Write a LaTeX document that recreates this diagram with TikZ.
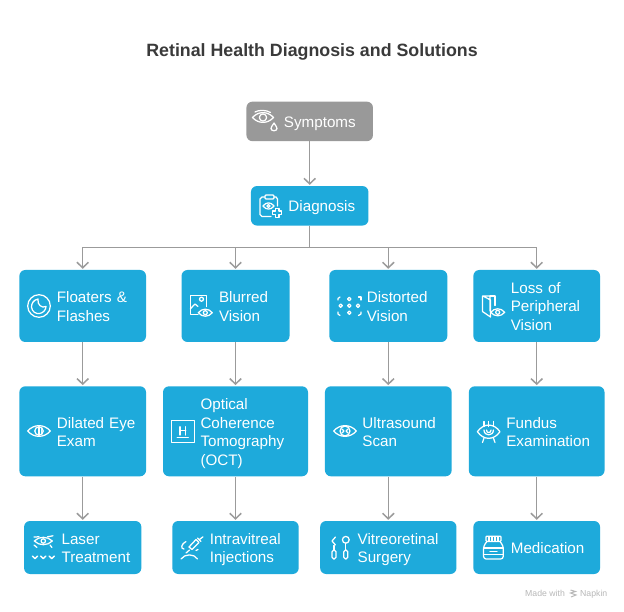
\documentclass[tikz,border=0pt]{standalone}
\usepackage{fontspec}
\setmainfont{Liberation Sans}
\usetikzlibrary{arrows.meta}
\definecolor{cardblue}{HTML}{1EAADB}
\definecolor{cardgrey}{HTML}{999999}
\definecolor{linkgrey}{HTML}{9B9B9B}
\definecolor{titleink}{HTML}{3A3A3A}
\definecolor{footink}{HTML}{B8B8B8}
\tikzset{
  card/.style={fill=cardblue, text=white, rounded corners=6pt, inner xsep=0pt, inner ysep=0pt,
    text width=#1, align=left, font=\fontsize{15.2}{18.5}\selectfont,
    execute at begin node={\leftskip=37.5pt\rule{0pt}{15.5pt}},
    execute at end node={\rule[-3.5pt]{0pt}{3.5pt}}},
  rowtop/.style={minimum height=39.5pt},
  rowa/.style={minimum height=72pt},
  rowb/.style={minimum height=90pt},
  rowc/.style={minimum height=53pt},
  link/.style={draw=linkgrey, line width=1.5pt, -{Straight Barb[length=5.5pt,width=11.5pt]}, shorten >=1pt},
  trunk/.style={draw=linkgrey, line width=1.5pt},
  iconline/.style={draw=white, line width=1.25pt, line cap=round, line join=round},
  footnote/.style={anchor=base west, inner sep=0, text=footink, font=\fontsize{8.7}{10}\selectfont},
}
% eye outline: centre x, centre y, half width, half height
\newcommand\eyeglyph[4]{
  \draw[iconline] (#1-#3,#2) .. controls (#1-#3*0.45,#2-#4*1.3) and (#1+#3*0.45,#2-#4*1.3) .. (#1+#3,#2)
    .. controls (#1+#3*0.45,#2+#4*1.3) and (#1-#3*0.45,#2+#4*1.3) .. (#1-#3,#2) -- cycle;
}
\begin{document}
\begin{tikzpicture}[x=1pt, y=-1pt]
    \useasboundingbox (0,0) rectangle (624,612);
    \fill[white] (0,0) rectangle (624,612);
    %% title
    \draw (312,51.5) node[text=titleink, font=\fontsize{17.8}{22}\selectfont\bfseries](title){Retinal Health Diagnosis and Solutions} ;
    %% top
    \draw (309.7,121.4) node[card=126.5pt, rowtop, fill=cardgrey](symptoms){Symptoms} ;
    \draw (309.7,205.8) node[card=117.5pt, rowtop](diagnosis){Diagnosis} ;
    %% symptoms
    \draw (82.7,306) node[card=126.7pt, rowa](floaters){Floaters \&\\Flashes} ;
    \draw (235.5,306) node[card=108pt, rowa](blurred){Blurred\\Vision} ;
    \draw (388.3,306) node[card=118pt, rowa](distorted){Distorted\\Vision} ;
    \draw (536.7,306) node[card=126.7pt, rowa](loss){Loss of\\Peripheral\\Vision} ;
    %% exams
    \draw (82.7,431.3) node[card=126.7pt, rowb](dilated){Dilated Eye\\Exam} ;
    \draw (235.5,431.3) node[card=145pt, rowb](oct){Optical\\Coherence\\Tomography\\(OCT)} ;
    \draw (388.3,431.3) node[card=126.7pt, rowb](ultrasound){Ultrasound\\Scan} ;
    \draw (536.7,431.3) node[card=135.7pt, rowb](fundus){Fundus\\Examination} ;
    %% treatments
    \draw (82.7,547.5) node[card=117.3pt, rowc](laser){Laser\\Treatment} ;
    \draw (235.5,547.5) node[card=126.4pt, rowc](injections){Intravitreal\\Injections} ;
    \draw (388.3,547.5) node[card=136.3pt, rowc](surgery){Vitreoretinal\\Surgery} ;
    \draw (536.7,547.5) node[card=126.7pt, rowc](medication){Medication} ;
    %% connectors
    \coordinate (bus) at (309.7,247.3) ;
    \draw[link] (symptoms) -- (diagnosis) ;
    \draw[trunk] (diagnosis) -- (bus) ;
    \draw[link] (bus) -| (floaters.north) ;
    \draw[link] (bus) -| (blurred.north) ;
    \draw[link] (bus) -| (distorted.north) ;
    \draw[link] (bus) -| (loss.north) ;
    \draw[link] (floaters) -- (dilated) ;
    \draw[link] (blurred) -- (oct) ;
    \draw[link] (distorted) -- (ultrasound) ;
    \draw[link] (loss) -- (fundus) ;
    \draw[link] (dilated) -- (laser) ;
    \draw[link] (oct) -- (injections) ;
    \draw[link] (ultrasound) -- (surgery) ;
    \draw[link] (fundus) -- (medication) ;
    %% icons
    %% -- symptoms
    \eyeglyph{263}{117.5}{10.5}{5}
    \draw[iconline] (263,117.5) circle (3.6) ;
    \draw[iconline] (255,112) .. controls (258.5,109.8) and (266.5,109.8) .. (270.5,112.5) ;
    \draw[iconline] (274,123) .. controls (272,126) and (271,127.5) .. (271,128.5)
      .. controls (271,131.5) and (277,131.5) .. (277,128.5) .. controls (277,127.5) and (276,126) .. (274,123) -- cycle ;
    %% -- diagnosis
    \draw[iconline] (264.5,197) -- (262,197) -- (260,199) -- (260,214.5) -- (262,216.5) -- (271,216.5) ;
    \draw[iconline] (274,197) -- (276,197) -- (277.5,199) -- (277.5,206) ;
    \draw[iconline, rounded corners=1pt] (265,195) rectangle (274,199) ;
    \eyeglyph{268.5}{206}{5.5}{3.2}
    \draw[iconline] (268.5,206) circle (1.6) ;
    \draw[iconline] (275.6,208.2) -- (279,208.2) -- (279,211) -- (281.8,211) -- (281.8,214.4) -- (279,214.4) -- (279,217.2) -- (275.6,217.2) -- (275.6,214.4) -- (272.8,214.4) -- (272.8,211) -- (275.6,211) -- cycle ;
    %% -- floaters
    \draw[iconline] (39,306) circle (11.3) ;
    \draw[iconline] (38,299) .. controls (33,300) and (31.5,304) .. (31.5,307) .. controls (32,312) and (36,314) .. (39.5,313.5)
      .. controls (43,313) and (46,310) .. (46,306.5) .. controls (42,308.5) and (37,305) .. (38,299) -- cycle ;
    %% -- blurred
    \draw[iconline] (198,314.2) -- (190.2,314.2) -- (190.2,295.2) -- (206.6,295.2) -- (206.6,306.5) ;
    \draw[iconline] (190.2,309) -- (195,304) -- (198,306.5) ;
    \draw[iconline] (201.5,299.2) circle (2) ;
    \eyeglyph{205.3}{312.7}{7}{3.6}
    \draw[iconline] (205.3,312.7) circle (2) ;
    %% -- distorted
    \foreach \dotx/\doty in {349.3/299,340.7/305.7,349.3/305.7,358/305.7,349.3/312.7}
      \draw[iconline] (\dotx,\doty) circle (1.7) ;
    \draw[iconline] (338,300) -- (338,298.5) -- (340,297) ;
    \draw[iconline] (358.5,297) -- (361,297) -- (361,300) ;
    \draw[iconline] (338,312) -- (338,314) -- (340,315.5) ;
    \draw[iconline] (361,312) -- (361,314) -- (358.5,315.5) ;
    %% -- loss
    \draw[iconline] (490,311) -- (490,296) -- (482.5,296) -- (482.5,311.5) -- (490.5,317) -- (490.5,300) -- (483,296) ;
    \draw[iconline] (490,296) -- (495,296) -- (495,305.5) ;
    \eyeglyph{497.7}{312.3}{7}{3.6}
    \draw[iconline] (497.7,312.3) circle (2) ;
    %% -- dilated
    \eyeglyph{39}{431}{11.3}{5.5}
    \draw[iconline] (39,431) circle (4.2) ;
    \draw[iconline] (39,427) -- (39,435) ;
    \foreach \doty in {429,431,433}
      \draw[iconline] (41.5,\doty) -- (41.6,\doty) ;
    %% -- oct
    \draw[iconline] (171.5,420.2) rectangle (194.2,442.6) ;
    \draw[iconline] (180,426.8) -- (180,435) ;
    \draw[iconline] (185.7,426.8) -- (185.7,435) ;
    \draw[iconline] (180,430.5) -- (185.7,430.5) ;
    \draw[iconline] (177.3,437.4) -- (188.3,437.4) ;
    %% -- ultrasound
    \eyeglyph{345}{431}{11.3}{5.5}
    \draw[iconline] (345,431) circle (5) ;
    \draw[iconline] (342,429) -- (344,431) -- (342,433) ;
    \draw[iconline] (348,429) -- (346,431) -- (348,433) ;
    %% -- fundus
    \eyeglyph{488.7}{431.7}{11.3}{6.8}
    \draw[iconline] (484,430) .. controls (484,436.5) and (493.4,436.5) .. (493.4,430) ;
    \draw[iconline] (486.5,430) .. controls (486.5,433.5) and (491,433.5) .. (491,430) ;
    \foreach \tickx in {484,488.7,493.4}
      \draw[iconline] (\tickx,421.5) -- (\tickx,426.5) ;
    \draw[iconline] (484,438) -- (482.5,442.5) ;
    \draw[iconline] (493.4,438) -- (495,442.5) ;
    %% -- laser
    \eyeglyph{43.3}{541}{9}{3.8}
    \draw[iconline] (43.3,541) circle (2.2) ;
    \draw[iconline] (34,537) -- (39,536.8) ;
    \draw[iconline] (47.5,536.8) -- (53,535.8) ;
    \draw[iconline] (34,545) -- (37,547.5) ;
    \draw[iconline] (50,545) -- (52,547.5) ;
    \foreach \chevx in {35,43.3,51.7}
      \draw[iconline, line width=1.4pt] (\chevx-2.6,556) -- (\chevx,558.6) -- (\chevx+2.6,556) ;
    %% -- injections
    \draw[iconline] (189,547) -- (196,539.5) -- (199,542.5) -- (192,549.5) -- cycle ;
    \draw[iconline] (197.5,538) -- (201,541.5) ;
    \draw[iconline] (199.5,539.5) -- (203,536.8) ;
    \draw[iconline] (189.5,550) -- (186,553) ;
    \draw[iconline] (186,541.5) .. controls (181,544) and (180.5,549) .. (184,549) ;
    \draw[iconline] (181,559) .. controls (185,553.5) and (194,553.5) .. (197.5,559) ;
    \draw[iconline] (196,550.5) -- (198,549.5) ;
    %% -- surgery
    \draw[iconline] (335.5,537) -- (332,541) -- (335.5,545) ;
    \draw[iconline] (334,545.5) -- (334,550) ;
    \draw[iconline, rounded corners=1.8pt] (332,550) rectangle (336,559) ;
    \draw[iconline] (345.8,539.8) circle (3.4) ;
    \draw[iconline] (345.8,543.2) -- (345.8,550) ;
    \draw[iconline, rounded corners=1.8pt] (343.8,550) rectangle (347.8,559) ;
    %% -- medication
    \draw[iconline, rounded corners=0.8pt] (486,536.2) rectangle (501,541.4) ;
    \foreach \tickx in {489,492,495,498}
      \draw[iconline] (\tickx,536.5) -- (\tickx,541) ;
    \draw[iconline, rounded corners=2.5pt] (487,541.4) -- (483.6,546) -- (483.6,559) -- (503.2,559) -- (503.2,546) -- (500,541.4) ;
    \draw[iconline] (483.6,548) -- (503.2,548) ;
    \draw[iconline] (483.6,554.5) -- (503.2,554.5) ;
    \draw[iconline] (490,551.2) -- (497,551.2) ;
    %% footer
    \draw (525,596) node[footnote](made){Made with} ;
    \draw (580,596) node[footnote](napkin){Napkin} ;
    \draw[footink, line width=1pt] (570.5,590) -- (575.5,591.5) -- (570.5,593) -- (576,595) -- (571,597) ;
\end{tikzpicture}
\end{document}
